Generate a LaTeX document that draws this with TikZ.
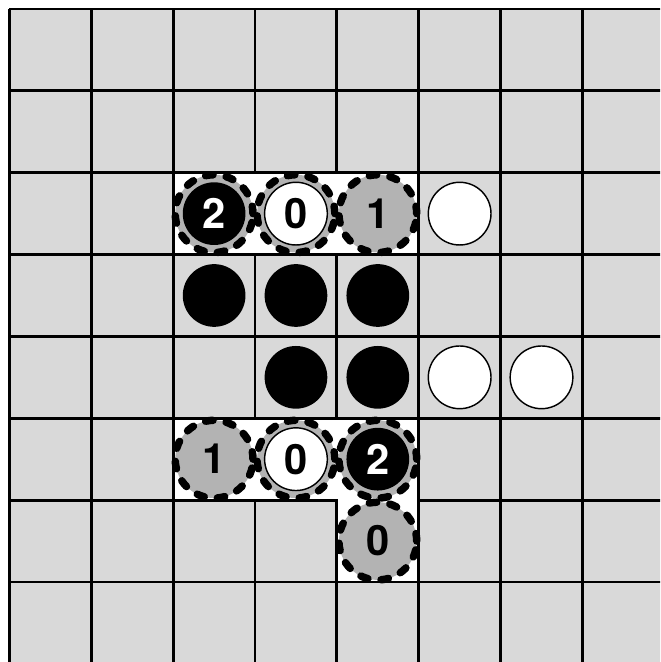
\documentclass[tikz,border=0pt]{standalone}
\usepackage{fontspec}
\setsansfont{TeX Gyre Heros}
\definecolor{boardgray}{HTML}{D9D9D9}
\definecolor{markgray}{HTML}{B3B3B3}

\begin{document}
\begin{tikzpicture}[
  gridline/.style={line width=1pt,draw=black},
  stone/.style={circle,minimum size=7.66mm,inner sep=0pt,
    font=\sffamily\bfseries\fontsize{14.5}{17}\selectfont},
  blackstone/.style={stone,fill=black,text=white},
  whitestone/.style={stone,fill=white,draw=black,line width=0.5pt},
  ring/.style={circle,minimum size=9.5mm,inner sep=0pt,fill=markgray,draw=black,
    line width=2.6pt,dash pattern=on 2.6pt off 4.6pt,line cap=round,
    font=\sffamily\bfseries\fontsize{14.5}{17}\selectfont}
]
\useasboundingbox (-0.116,0.11) rectangle (7.948,-7.978);
\clip (-0.116,0.11) rectangle (7.948,-7.978);
% board
\fill[boardgray] (0,0) rectangle (8.5,-8.5);
\draw[gridline] (0,-8.5) grid (8.5,0);
% free points
\filldraw[gridline,fill=white] (2,-2) rectangle (5,-3);
\filldraw[gridline,fill=white] (2,-5) -- (5,-5) -- (5,-7) -- (4,-7) -- (4,-6) -- (2,-6) -- cycle;
% marked points
\node[ring] (r22) at (2.5,-2.5) {};
\node[ring] (r32) at (3.5,-2.5) {};
\node[ring] (r42) at (4.5,-2.5) {1};
\node[ring] (r25) at (2.5,-5.5) {1};
\node[ring] (r35) at (3.5,-5.5) {};
\node[ring] (r45) at (4.5,-5.5) {};
\node[ring] (r46) at (4.5,-6.5) {0};
\node[blackstone] (s22) at (r22) {2};
\node[whitestone] (s32) at (r32) {0};
\node[whitestone] (s35) at (r35) {0};
\node[blackstone] (s45) at (r45) {2};
% stones
\node[whitestone] (s52) at (5.5,-2.5) {};
\node[blackstone] (s23) at (2.5,-3.5) {};
\node[blackstone] (s33) at (3.5,-3.5) {};
\node[blackstone] (s43) at (4.5,-3.5) {};
\node[blackstone] (s34) at (3.5,-4.5) {};
\node[blackstone] (s44) at (4.5,-4.5) {};
\node[whitestone] (s54) at (5.5,-4.5) {};
\node[whitestone] (s64) at (6.5,-4.5) {};
\end{tikzpicture}
\end{document}
